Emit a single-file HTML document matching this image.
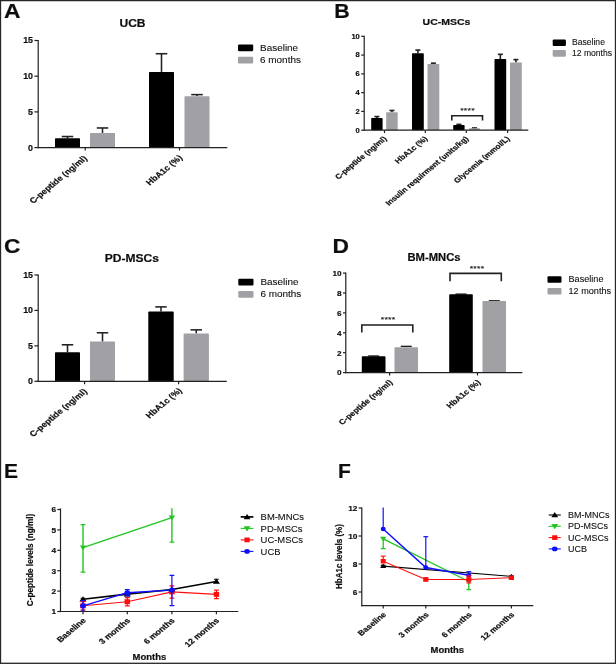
<!DOCTYPE html>
<html><head><meta charset="utf-8"><title>Figure</title>
<style>html,body{margin:0;padding:0;background:#fff;}svg{display:block;}text{font-family:"Liberation Sans",Arial,sans-serif;}</style>
</head><body>
<svg width="616" height="664" viewBox="0 0 616 664" font-family='"Liberation Sans", Arial, sans-serif'>
<rect x="0.00" y="0.00" width="616.00" height="664.00" fill="#fff"/>
<defs><filter id="soft" x="0" y="0" width="100%" height="100%" filterUnits="userSpaceOnUse"><feGaussianBlur stdDeviation="0.42"/></filter></defs>
<g filter="url(#soft)">
<rect x="0.00" y="0.00" width="616.00" height="664.00" fill="#fff"/>
<line x1="67.50" y1="138.32" x2="67.50" y2="136.53" stroke="#202020" stroke-width="1.55" />
<line x1="61.75" y1="136.53" x2="73.25" y2="136.53" stroke="#202020" stroke-width="1.55" />
<rect x="55.00" y="138.32" width="25.00" height="9.28" fill="#000" rx="0.7"/>
<line x1="102.50" y1="132.96" x2="102.50" y2="127.97" stroke="#202020" stroke-width="1.55" />
<line x1="96.75" y1="127.97" x2="108.25" y2="127.97" stroke="#202020" stroke-width="1.55" />
<rect x="90.00" y="132.96" width="25.00" height="14.64" fill="#a1a0a4" rx="0.7"/>
<line x1="161.50" y1="71.92" x2="161.50" y2="53.71" stroke="#202020" stroke-width="1.55" />
<line x1="155.75" y1="53.71" x2="167.25" y2="53.71" stroke="#202020" stroke-width="1.55" />
<rect x="149.00" y="71.92" width="25.00" height="75.68" fill="#000" rx="0.7"/>
<line x1="197.00" y1="96.19" x2="197.00" y2="94.62" stroke="#202020" stroke-width="1.55" />
<line x1="191.25" y1="94.62" x2="202.75" y2="94.62" stroke="#202020" stroke-width="1.55" />
<rect x="184.50" y="96.19" width="25.00" height="51.41" fill="#a1a0a4" rx="0.7"/>
<line x1="38.20" y1="39.90" x2="38.20" y2="148.20" stroke="#202020" stroke-width="1.2" />
<line x1="37.60" y1="147.60" x2="227.30" y2="147.60" stroke="#202020" stroke-width="1.2" />
<line x1="34.40" y1="147.60" x2="38.20" y2="147.60" stroke="#202020" stroke-width="1.2" />
<text font-size="8.2" font-weight="bold" text-anchor="end" fill="#111" stroke="#111" stroke-width="0.2" transform="translate(33.00 150.55) scale(1.08 1)">0</text>
<line x1="34.40" y1="111.90" x2="38.20" y2="111.90" stroke="#202020" stroke-width="1.2" />
<text font-size="8.2" font-weight="bold" text-anchor="end" fill="#111" stroke="#111" stroke-width="0.2" transform="translate(33.00 114.85) scale(1.08 1)">5</text>
<line x1="34.40" y1="76.20" x2="38.20" y2="76.20" stroke="#202020" stroke-width="1.2" />
<text font-size="8.2" font-weight="bold" text-anchor="end" fill="#111" stroke="#111" stroke-width="0.2" transform="translate(33.00 79.15) scale(1.08 1)">10</text>
<line x1="34.40" y1="40.50" x2="38.20" y2="40.50" stroke="#202020" stroke-width="1.2" />
<text font-size="8.2" font-weight="bold" text-anchor="end" fill="#111" stroke="#111" stroke-width="0.2" transform="translate(33.00 43.45) scale(1.08 1)">15</text>
<line x1="85.20" y1="147.60" x2="85.20" y2="150.50" stroke="#202020" stroke-width="1.2" />
<text font-size="7.8" font-weight="bold" text-anchor="end" fill="#111" stroke="#111" stroke-width="0.2" transform="translate(87.60 158.80) scale(1.2 1) rotate(-45)">C-peptide (ng/ml)</text>
<line x1="179.50" y1="147.60" x2="179.50" y2="150.50" stroke="#202020" stroke-width="1.2" />
<text font-size="7.8" font-weight="bold" text-anchor="end" fill="#111" stroke="#111" stroke-width="0.2" transform="translate(182.90 158.20) scale(1.2 1) rotate(-45)">HbA1c (%)</text>
<text font-size="10.3" font-weight="bold" text-anchor="middle" fill="#111" stroke="#111" stroke-width="0.2" transform="translate(132.50 27.20) scale(1.17 1)">UCB</text>
<rect x="238.00" y="44.40" width="15.20" height="6.80" fill="#000" rx="1.1"/>
<rect x="238.00" y="56.70" width="15.20" height="6.80" fill="#a1a0a4" rx="1.1"/>
<text font-size="9.3" text-anchor="start" fill="#111" stroke="#111" stroke-width="0.1" transform="translate(260.00 50.50) scale(1.07 1)">Baseline</text>
<text font-size="9.3" text-anchor="start" fill="#111" stroke="#111" stroke-width="0.1" transform="translate(260.00 62.80) scale(1.07 1)">6 months</text>
<text font-size="20" font-weight="bold" text-anchor="start" fill="#111" stroke="#111" stroke-width="0.2" transform="translate(4.00 18.30) scale(1.14 1)">A</text>
<line x1="376.90" y1="117.99" x2="376.90" y2="116.58" stroke="#202020" stroke-width="1.6" />
<line x1="374.40" y1="116.58" x2="379.40" y2="116.58" stroke="#202020" stroke-width="1.6" />
<rect x="371.20" y="117.99" width="11.40" height="12.21" fill="#000" rx="0.7"/>
<line x1="391.95" y1="112.36" x2="391.95" y2="110.48" stroke="#202020" stroke-width="1.6" />
<line x1="389.45" y1="110.48" x2="394.45" y2="110.48" stroke="#202020" stroke-width="1.6" />
<rect x="386.20" y="112.36" width="11.50" height="17.84" fill="#a1a0a4" rx="0.7"/>
<line x1="417.90" y1="53.20" x2="417.90" y2="50.10" stroke="#202020" stroke-width="1.6" />
<line x1="415.40" y1="50.10" x2="420.40" y2="50.10" stroke="#202020" stroke-width="1.6" />
<rect x="412.00" y="53.20" width="11.80" height="77.00" fill="#000" rx="0.7"/>
<line x1="433.40" y1="64.00" x2="433.40" y2="63.16" stroke="#202020" stroke-width="1.6" />
<line x1="430.90" y1="63.16" x2="435.90" y2="63.16" stroke="#202020" stroke-width="1.6" />
<rect x="427.50" y="64.00" width="11.80" height="66.20" fill="#a1a0a4" rx="0.7"/>
<line x1="458.90" y1="125.04" x2="458.90" y2="124.38" stroke="#202020" stroke-width="1.6" />
<line x1="456.40" y1="124.38" x2="461.40" y2="124.38" stroke="#202020" stroke-width="1.6" />
<rect x="453.20" y="125.04" width="11.40" height="5.16" fill="#000" rx="0.7"/>
<line x1="474.50" y1="128.32" x2="474.50" y2="127.95" stroke="#202020" stroke-width="1.6" />
<line x1="472.00" y1="127.95" x2="477.00" y2="127.95" stroke="#202020" stroke-width="1.6" />
<rect x="469.00" y="128.32" width="11.00" height="1.88" fill="#a1a0a4" rx="0.7"/>
<line x1="500.35" y1="59.02" x2="500.35" y2="54.33" stroke="#202020" stroke-width="1.6" />
<line x1="497.85" y1="54.33" x2="502.85" y2="54.33" stroke="#202020" stroke-width="1.6" />
<rect x="494.50" y="59.02" width="11.70" height="71.18" fill="#000" rx="0.7"/>
<line x1="515.90" y1="62.59" x2="515.90" y2="59.59" stroke="#202020" stroke-width="1.6" />
<line x1="513.40" y1="59.59" x2="518.40" y2="59.59" stroke="#202020" stroke-width="1.6" />
<rect x="510.00" y="62.59" width="11.80" height="67.61" fill="#a1a0a4" rx="0.7"/>
<line x1="364.20" y1="35.70" x2="364.20" y2="130.80" stroke="#202020" stroke-width="1.2" />
<line x1="363.60" y1="130.20" x2="528.30" y2="130.20" stroke="#202020" stroke-width="1.2" />
<line x1="361.20" y1="130.20" x2="364.20" y2="130.20" stroke="#202020" stroke-width="1.2" />
<text font-size="6.6" font-weight="bold" text-anchor="end" fill="#111" stroke="#111" stroke-width="0.2" transform="translate(359.80 132.58) scale(1.14 1)">0</text>
<line x1="361.20" y1="111.42" x2="364.20" y2="111.42" stroke="#202020" stroke-width="1.2" />
<text font-size="6.6" font-weight="bold" text-anchor="end" fill="#111" stroke="#111" stroke-width="0.2" transform="translate(359.80 113.80) scale(1.14 1)">2</text>
<line x1="361.20" y1="92.64" x2="364.20" y2="92.64" stroke="#202020" stroke-width="1.2" />
<text font-size="6.6" font-weight="bold" text-anchor="end" fill="#111" stroke="#111" stroke-width="0.2" transform="translate(359.80 95.02) scale(1.14 1)">4</text>
<line x1="361.20" y1="73.86" x2="364.20" y2="73.86" stroke="#202020" stroke-width="1.2" />
<text font-size="6.6" font-weight="bold" text-anchor="end" fill="#111" stroke="#111" stroke-width="0.2" transform="translate(359.80 76.24) scale(1.14 1)">6</text>
<line x1="361.20" y1="55.08" x2="364.20" y2="55.08" stroke="#202020" stroke-width="1.2" />
<text font-size="6.6" font-weight="bold" text-anchor="end" fill="#111" stroke="#111" stroke-width="0.2" transform="translate(359.80 57.46) scale(1.14 1)">8</text>
<line x1="361.20" y1="36.30" x2="364.20" y2="36.30" stroke="#202020" stroke-width="1.2" />
<text font-size="6.6" font-weight="bold" text-anchor="end" fill="#111" stroke="#111" stroke-width="0.2" transform="translate(359.80 38.68) scale(1.14 1)">10</text>
<line x1="384.50" y1="130.20" x2="384.50" y2="133.10" stroke="#202020" stroke-width="1.2" />
<text font-size="7.0" font-weight="bold" text-anchor="end" fill="#111" stroke="#111" stroke-width="0.2" transform="translate(387.20 139.20) scale(1.2 1) rotate(-45)">C-peptide (ng/ml)</text>
<line x1="425.30" y1="130.20" x2="425.30" y2="133.10" stroke="#202020" stroke-width="1.2" />
<text font-size="7.0" font-weight="bold" text-anchor="end" fill="#111" stroke="#111" stroke-width="0.2" transform="translate(428.00 139.20) scale(1.2 1) rotate(-45)">HbA1c (%)</text>
<line x1="466.30" y1="130.20" x2="466.30" y2="133.10" stroke="#202020" stroke-width="1.2" />
<text font-size="7.0" font-weight="bold" text-anchor="end" fill="#111" stroke="#111" stroke-width="0.2" transform="translate(469.00 139.20) scale(1.2 1) rotate(-45)">Insulin requirment (units/kg)</text>
<line x1="507.60" y1="130.20" x2="507.60" y2="133.10" stroke="#202020" stroke-width="1.2" />
<text font-size="7.0" font-weight="bold" text-anchor="end" fill="#111" stroke="#111" stroke-width="0.2" transform="translate(510.30 139.20) scale(1.2 1) rotate(-45)">Glycemia (mmol/L)</text>
<text font-size="9.0" font-weight="bold" text-anchor="middle" fill="#111" stroke="#111" stroke-width="0.2" transform="translate(446.50 25.00) scale(1.17 1)">UC-MSCs</text>
<rect x="552.70" y="39.50" width="13.20" height="6.60" fill="#000" rx="1.1"/>
<rect x="552.70" y="50.10" width="13.20" height="6.60" fill="#a1a0a4" rx="1.1"/>
<text font-size="8.3" text-anchor="start" fill="#111" stroke="#111" stroke-width="0.1" transform="translate(572.00 45.40) scale(1.035 1)">Baseline</text>
<text font-size="8.3" text-anchor="start" fill="#111" stroke="#111" stroke-width="0.1" transform="translate(572.00 56.00) scale(1.035 1)">12 months</text>
<text font-size="19.6" font-weight="bold" text-anchor="start" fill="#111" stroke="#111" stroke-width="0.2" transform="translate(334.20 17.60) scale(1.09 1)">B</text>
<line x1="67.50" y1="352.24" x2="67.50" y2="344.80" stroke="#202020" stroke-width="1.55" />
<line x1="61.75" y1="344.80" x2="73.25" y2="344.80" stroke="#202020" stroke-width="1.55" />
<rect x="55.00" y="352.24" width="25.00" height="29.06" fill="#000" rx="0.7"/>
<line x1="102.50" y1="341.61" x2="102.50" y2="332.76" stroke="#202020" stroke-width="1.55" />
<line x1="96.75" y1="332.76" x2="108.25" y2="332.76" stroke="#202020" stroke-width="1.55" />
<rect x="90.00" y="341.61" width="25.00" height="39.69" fill="#a1a0a4" rx="0.7"/>
<line x1="161.00" y1="311.50" x2="161.00" y2="306.89" stroke="#202020" stroke-width="1.55" />
<line x1="155.25" y1="306.89" x2="166.75" y2="306.89" stroke="#202020" stroke-width="1.55" />
<rect x="148.30" y="311.50" width="25.40" height="69.80" fill="#000" rx="0.7"/>
<line x1="196.25" y1="333.39" x2="196.25" y2="329.85" stroke="#202020" stroke-width="1.55" />
<line x1="190.50" y1="329.85" x2="202.00" y2="329.85" stroke="#202020" stroke-width="1.55" />
<rect x="183.60" y="333.39" width="25.30" height="47.91" fill="#a1a0a4" rx="0.7"/>
<line x1="38.20" y1="274.40" x2="38.20" y2="381.90" stroke="#202020" stroke-width="1.2" />
<line x1="37.60" y1="381.30" x2="226.80" y2="381.30" stroke="#202020" stroke-width="1.2" />
<line x1="34.40" y1="381.30" x2="38.20" y2="381.30" stroke="#202020" stroke-width="1.2" />
<text font-size="8.2" font-weight="bold" text-anchor="end" fill="#111" stroke="#111" stroke-width="0.2" transform="translate(33.00 384.25) scale(1.08 1)">0</text>
<line x1="34.40" y1="345.87" x2="38.20" y2="345.87" stroke="#202020" stroke-width="1.2" />
<text font-size="8.2" font-weight="bold" text-anchor="end" fill="#111" stroke="#111" stroke-width="0.2" transform="translate(33.00 348.82) scale(1.08 1)">5</text>
<line x1="34.40" y1="310.43" x2="38.20" y2="310.43" stroke="#202020" stroke-width="1.2" />
<text font-size="8.2" font-weight="bold" text-anchor="end" fill="#111" stroke="#111" stroke-width="0.2" transform="translate(33.00 313.39) scale(1.08 1)">10</text>
<line x1="34.40" y1="275.00" x2="38.20" y2="275.00" stroke="#202020" stroke-width="1.2" />
<text font-size="8.2" font-weight="bold" text-anchor="end" fill="#111" stroke="#111" stroke-width="0.2" transform="translate(33.00 277.95) scale(1.08 1)">15</text>
<line x1="84.60" y1="381.30" x2="84.60" y2="384.20" stroke="#202020" stroke-width="1.2" />
<text font-size="7.8" font-weight="bold" text-anchor="end" fill="#111" stroke="#111" stroke-width="0.2" transform="translate(87.60 391.90) scale(1.2 1) rotate(-45)">C-peptide (ng/ml)</text>
<line x1="178.60" y1="381.30" x2="178.60" y2="384.20" stroke="#202020" stroke-width="1.2" />
<text font-size="7.8" font-weight="bold" text-anchor="end" fill="#111" stroke="#111" stroke-width="0.2" transform="translate(182.50 391.10) scale(1.2 1) rotate(-45)">HbA1c (%)</text>
<text font-size="10.3" font-weight="bold" text-anchor="middle" fill="#111" stroke="#111" stroke-width="0.2" transform="translate(131.80 262.00) scale(1.17 1)">PD-MSCs</text>
<rect x="238.30" y="278.70" width="15.20" height="6.80" fill="#000" rx="1.1"/>
<rect x="238.30" y="291.00" width="15.20" height="6.80" fill="#a1a0a4" rx="1.1"/>
<text font-size="9.3" text-anchor="start" fill="#111" stroke="#111" stroke-width="0.1" transform="translate(260.40 284.80) scale(1.07 1)">Baseline</text>
<text font-size="9.3" text-anchor="start" fill="#111" stroke="#111" stroke-width="0.1" transform="translate(260.40 297.10) scale(1.07 1)">6 months</text>
<text font-size="20" font-weight="bold" text-anchor="start" fill="#111" stroke="#111" stroke-width="0.2" transform="translate(4.00 253.20) scale(1.14 1)">C</text>
<line x1="373.65" y1="356.28" x2="373.65" y2="355.98" stroke="#202020" stroke-width="1.35" />
<line x1="368.15" y1="355.98" x2="379.15" y2="355.98" stroke="#202020" stroke-width="1.35" />
<rect x="361.80" y="356.28" width="23.70" height="16.32" fill="#000" rx="0.7"/>
<line x1="406.25" y1="347.23" x2="406.25" y2="346.33" stroke="#202020" stroke-width="1.35" />
<line x1="400.75" y1="346.33" x2="411.75" y2="346.33" stroke="#202020" stroke-width="1.35" />
<rect x="394.50" y="347.23" width="23.50" height="25.37" fill="#a1a0a4" rx="0.7"/>
<line x1="461.00" y1="294.29" x2="461.00" y2="294.09" stroke="#202020" stroke-width="1.35" />
<line x1="455.50" y1="294.09" x2="466.50" y2="294.09" stroke="#202020" stroke-width="1.35" />
<rect x="449.20" y="294.29" width="23.60" height="78.31" fill="#000" rx="0.7"/>
<line x1="494.25" y1="301.06" x2="494.25" y2="300.76" stroke="#202020" stroke-width="1.35" />
<line x1="488.75" y1="300.76" x2="499.75" y2="300.76" stroke="#202020" stroke-width="1.35" />
<rect x="482.50" y="301.06" width="23.50" height="71.54" fill="#a1a0a4" rx="0.7"/>
<line x1="345.80" y1="272.50" x2="345.80" y2="373.20" stroke="#202020" stroke-width="1.2" />
<line x1="345.20" y1="372.60" x2="522.30" y2="372.60" stroke="#202020" stroke-width="1.2" />
<line x1="343.00" y1="372.60" x2="345.80" y2="372.60" stroke="#202020" stroke-width="1.2" />
<text font-size="8.0" font-weight="bold" text-anchor="end" fill="#111" stroke="#111" stroke-width="0.2" transform="translate(341.60 375.48) scale(1.02 1)">0</text>
<line x1="343.00" y1="352.70" x2="345.80" y2="352.70" stroke="#202020" stroke-width="1.2" />
<text font-size="8.0" font-weight="bold" text-anchor="end" fill="#111" stroke="#111" stroke-width="0.2" transform="translate(341.60 355.58) scale(1.02 1)">2</text>
<line x1="343.00" y1="332.80" x2="345.80" y2="332.80" stroke="#202020" stroke-width="1.2" />
<text font-size="8.0" font-weight="bold" text-anchor="end" fill="#111" stroke="#111" stroke-width="0.2" transform="translate(341.60 335.68) scale(1.02 1)">4</text>
<line x1="343.00" y1="312.90" x2="345.80" y2="312.90" stroke="#202020" stroke-width="1.2" />
<text font-size="8.0" font-weight="bold" text-anchor="end" fill="#111" stroke="#111" stroke-width="0.2" transform="translate(341.60 315.78) scale(1.02 1)">6</text>
<line x1="343.00" y1="293.00" x2="345.80" y2="293.00" stroke="#202020" stroke-width="1.2" />
<text font-size="8.0" font-weight="bold" text-anchor="end" fill="#111" stroke="#111" stroke-width="0.2" transform="translate(341.60 295.88) scale(1.02 1)">8</text>
<line x1="343.00" y1="273.10" x2="345.80" y2="273.10" stroke="#202020" stroke-width="1.2" />
<text font-size="8.0" font-weight="bold" text-anchor="end" fill="#111" stroke="#111" stroke-width="0.2" transform="translate(341.60 275.98) scale(1.02 1)">10</text>
<line x1="389.60" y1="372.60" x2="389.60" y2="375.50" stroke="#202020" stroke-width="1.2" />
<text font-size="7.3" font-weight="bold" text-anchor="end" fill="#111" stroke="#111" stroke-width="0.2" transform="translate(393.10 382.90) scale(1.2 1) rotate(-45)">C-peptide (ng/ml)</text>
<line x1="477.50" y1="372.60" x2="477.50" y2="375.50" stroke="#202020" stroke-width="1.2" />
<text font-size="7.3" font-weight="bold" text-anchor="end" fill="#111" stroke="#111" stroke-width="0.2" transform="translate(481.00 382.90) scale(1.2 1) rotate(-45)">HbA1c (%)</text>
<text font-size="10.2" font-weight="bold" text-anchor="middle" fill="#111" stroke="#111" stroke-width="0.2" transform="translate(434.00 260.70) scale(1.1 1)">BM-MNCs</text>
<rect x="547.50" y="276.20" width="14.00" height="6.60" fill="#000" rx="1.1"/>
<rect x="547.50" y="288.00" width="14.00" height="6.60" fill="#a1a0a4" rx="1.1"/>
<text font-size="8.6" text-anchor="start" fill="#111" stroke="#111" stroke-width="0.1" transform="translate(568.50 282.10) scale(1.06 1)">Baseline</text>
<text font-size="8.6" text-anchor="start" fill="#111" stroke="#111" stroke-width="0.1" transform="translate(568.50 293.90) scale(1.06 1)">12 months</text>
<text font-size="20" font-weight="bold" text-anchor="start" fill="#111" stroke="#111" stroke-width="0.2" transform="translate(332.50 252.70) scale(1.14 1)">D</text>
<polyline points="451.80,120.60 451.80,115.80 482.50,115.80 482.50,120.60" fill="none" stroke="#202020" stroke-width="1.6"/>
<text font-size="7.8" text-anchor="middle" fill="#111" letter-spacing="0.19" stroke="#111" stroke-width="0.1" transform="translate(467.50 113.10) scale(1.14 1)">****</text>
<polyline points="361.80,332.50 361.80,325.00 412.80,325.00 412.80,332.50" fill="none" stroke="#202020" stroke-width="1.6"/>
<text font-size="7.8" text-anchor="middle" fill="#111" letter-spacing="0.19" stroke="#111" stroke-width="0.1" transform="translate(388.10 322.40) scale(1.14 1)">****</text>
<polyline points="450.00,281.20 450.00,273.40 501.30,273.40 501.30,281.20" fill="none" stroke="#202020" stroke-width="1.6"/>
<text font-size="7.8" text-anchor="middle" fill="#111" letter-spacing="0.19" stroke="#111" stroke-width="0.1" transform="translate(477.00 270.90) scale(1.14 1)">****</text>
<clipPath id="ce"><rect x="0" y="508.40" width="616" height="400"/></clipPath>
<g clip-path="url(#ce)">
<line x1="83.00" y1="600.28" x2="83.00" y2="598.24" stroke="#000" stroke-width="1.2" />
<line x1="80.60" y1="598.24" x2="85.40" y2="598.24" stroke="#000" stroke-width="1.2" />
<line x1="80.60" y1="600.28" x2="85.40" y2="600.28" stroke="#000" stroke-width="1.2" />
<line x1="216.40" y1="582.53" x2="216.40" y2="579.27" stroke="#000" stroke-width="1.2" />
<line x1="214.00" y1="579.27" x2="218.80" y2="579.27" stroke="#000" stroke-width="1.2" />
<line x1="214.00" y1="582.53" x2="218.80" y2="582.53" stroke="#000" stroke-width="1.2" />
<polyline points="83.00,599.26 127.30,594.16 171.90,589.47 216.40,581.51" fill="none" stroke="#000" stroke-width="1.6"/>
<polygon points="83.00,596.14 79.44,601.60 86.56,601.60" fill="#000"/>
<polygon points="127.30,591.04 123.74,596.50 130.86,596.50" fill="#000"/>
<polygon points="171.90,586.35 168.34,591.81 175.46,591.81" fill="#000"/>
<polygon points="216.40,578.39 212.84,583.85 219.96,583.85" fill="#000"/>
<line x1="83.00" y1="572.13" x2="83.00" y2="524.60" stroke="#22c522" stroke-width="1.4" />
<line x1="80.60" y1="524.60" x2="85.40" y2="524.60" stroke="#22c522" stroke-width="1.4" />
<line x1="80.60" y1="572.13" x2="85.40" y2="572.13" stroke="#22c522" stroke-width="1.4" />
<line x1="171.90" y1="542.14" x2="171.90" y2="507.46" stroke="#22c522" stroke-width="1.4" />
<line x1="169.50" y1="507.46" x2="174.30" y2="507.46" stroke="#22c522" stroke-width="1.4" />
<line x1="169.50" y1="542.14" x2="174.30" y2="542.14" stroke="#22c522" stroke-width="1.4" />
<polyline points="83.00,547.65 171.90,517.66" fill="none" stroke="#22c522" stroke-width="1.4"/>
<polygon points="83.00,550.41 79.85,545.58 86.15,545.58" fill="#22c522"/>
<polygon points="171.90,520.42 168.75,515.59 175.05,515.59" fill="#22c522"/>
<line x1="83.00" y1="609.87" x2="83.00" y2="601.71" stroke="#ff1010" stroke-width="1.2" />
<line x1="80.60" y1="601.71" x2="85.40" y2="601.71" stroke="#ff1010" stroke-width="1.2" />
<line x1="80.60" y1="609.87" x2="85.40" y2="609.87" stroke="#ff1010" stroke-width="1.2" />
<line x1="127.30" y1="605.79" x2="127.30" y2="597.63" stroke="#ff1010" stroke-width="1.2" />
<line x1="124.90" y1="597.63" x2="129.70" y2="597.63" stroke="#ff1010" stroke-width="1.2" />
<line x1="124.90" y1="605.79" x2="129.70" y2="605.79" stroke="#ff1010" stroke-width="1.2" />
<line x1="171.90" y1="598.04" x2="171.90" y2="585.80" stroke="#ff1010" stroke-width="1.2" />
<line x1="169.50" y1="585.80" x2="174.30" y2="585.80" stroke="#ff1010" stroke-width="1.2" />
<line x1="169.50" y1="598.04" x2="174.30" y2="598.04" stroke="#ff1010" stroke-width="1.2" />
<line x1="216.40" y1="598.65" x2="216.40" y2="590.08" stroke="#ff1010" stroke-width="1.2" />
<line x1="214.00" y1="590.08" x2="218.80" y2="590.08" stroke="#ff1010" stroke-width="1.2" />
<line x1="214.00" y1="598.65" x2="218.80" y2="598.65" stroke="#ff1010" stroke-width="1.2" />
<polyline points="83.00,605.79 127.30,601.71 171.90,591.92 216.40,594.36" fill="none" stroke="#ff1010" stroke-width="1.1"/>
<rect x="80.27" y="603.32" width="5.45" height="4.94" fill="#ff1010"/>
<rect x="124.57" y="599.24" width="5.45" height="4.94" fill="#ff1010"/>
<rect x="169.17" y="589.45" width="5.45" height="4.94" fill="#ff1010"/>
<rect x="213.67" y="591.89" width="5.45" height="4.94" fill="#ff1010"/>
<line x1="83.00" y1="611.09" x2="83.00" y2="600.48" stroke="#1010ff" stroke-width="1.2" />
<line x1="80.60" y1="600.48" x2="85.40" y2="600.48" stroke="#1010ff" stroke-width="1.2" />
<line x1="80.60" y1="611.09" x2="85.40" y2="611.09" stroke="#1010ff" stroke-width="1.2" />
<line x1="127.30" y1="595.79" x2="127.30" y2="589.67" stroke="#1010ff" stroke-width="1.2" />
<line x1="124.90" y1="589.67" x2="129.70" y2="589.67" stroke="#1010ff" stroke-width="1.2" />
<line x1="124.90" y1="595.79" x2="129.70" y2="595.79" stroke="#1010ff" stroke-width="1.2" />
<line x1="171.90" y1="605.58" x2="171.90" y2="575.39" stroke="#1010ff" stroke-width="1.2" />
<line x1="169.50" y1="575.39" x2="174.30" y2="575.39" stroke="#1010ff" stroke-width="1.2" />
<line x1="169.50" y1="605.58" x2="174.30" y2="605.58" stroke="#1010ff" stroke-width="1.2" />
<polyline points="83.00,605.79 127.30,592.73 171.90,590.08" fill="none" stroke="#1010ff" stroke-width="1.3"/>
<ellipse cx="83.00" cy="605.79" rx="2.90" ry="2.55" fill="#1010ff"/>
<ellipse cx="127.30" cy="592.73" rx="2.90" ry="2.55" fill="#1010ff"/>
<ellipse cx="171.90" cy="590.08" rx="2.90" ry="2.55" fill="#1010ff"/>
</g>
<line x1="60.50" y1="508.40" x2="60.50" y2="612.10" stroke="#202020" stroke-width="1.2" />
<line x1="59.90" y1="611.50" x2="238.30" y2="611.50" stroke="#202020" stroke-width="1.2" />
<line x1="57.30" y1="611.50" x2="60.50" y2="611.50" stroke="#202020" stroke-width="1.2" />
<text font-size="8.0" font-weight="bold" text-anchor="end" fill="#111" stroke="#111" stroke-width="0.2" transform="translate(56.10 614.38) scale(1.04 1)">1</text>
<line x1="57.30" y1="591.10" x2="60.50" y2="591.10" stroke="#202020" stroke-width="1.2" />
<text font-size="8.0" font-weight="bold" text-anchor="end" fill="#111" stroke="#111" stroke-width="0.2" transform="translate(56.10 593.98) scale(1.04 1)">2</text>
<line x1="57.30" y1="570.70" x2="60.50" y2="570.70" stroke="#202020" stroke-width="1.2" />
<text font-size="8.0" font-weight="bold" text-anchor="end" fill="#111" stroke="#111" stroke-width="0.2" transform="translate(56.10 573.58) scale(1.04 1)">3</text>
<line x1="57.30" y1="550.30" x2="60.50" y2="550.30" stroke="#202020" stroke-width="1.2" />
<text font-size="8.0" font-weight="bold" text-anchor="end" fill="#111" stroke="#111" stroke-width="0.2" transform="translate(56.10 553.18) scale(1.04 1)">4</text>
<line x1="57.30" y1="529.90" x2="60.50" y2="529.90" stroke="#202020" stroke-width="1.2" />
<text font-size="8.0" font-weight="bold" text-anchor="end" fill="#111" stroke="#111" stroke-width="0.2" transform="translate(56.10 532.78) scale(1.04 1)">5</text>
<line x1="57.30" y1="509.50" x2="60.50" y2="509.50" stroke="#202020" stroke-width="1.2" />
<text font-size="8.0" font-weight="bold" text-anchor="end" fill="#111" stroke="#111" stroke-width="0.2" transform="translate(56.10 512.38) scale(1.04 1)">6</text>
<line x1="83.00" y1="611.50" x2="83.00" y2="614.30" stroke="#202020" stroke-width="1.2" />
<text font-size="7.5" font-weight="bold" text-anchor="end" fill="#111" stroke="#111" stroke-width="0.2" transform="translate(86.50 621.00) scale(1.2 1) rotate(-45)">Baseline</text>
<line x1="127.30" y1="611.50" x2="127.30" y2="614.30" stroke="#202020" stroke-width="1.2" />
<text font-size="7.5" font-weight="bold" text-anchor="end" fill="#111" stroke="#111" stroke-width="0.2" transform="translate(130.80 621.00) scale(1.2 1) rotate(-45)">3 months</text>
<line x1="171.90" y1="611.50" x2="171.90" y2="614.30" stroke="#202020" stroke-width="1.2" />
<text font-size="7.5" font-weight="bold" text-anchor="end" fill="#111" stroke="#111" stroke-width="0.2" transform="translate(175.40 621.00) scale(1.2 1) rotate(-45)">6 months</text>
<line x1="216.40" y1="611.50" x2="216.40" y2="614.30" stroke="#202020" stroke-width="1.2" />
<text font-size="7.5" font-weight="bold" text-anchor="end" fill="#111" stroke="#111" stroke-width="0.2" transform="translate(219.90 621.00) scale(1.2 1) rotate(-45)">12 months</text>
<text font-size="8.3" font-weight="bold" text-anchor="middle" fill="#111" stroke="#111" stroke-width="0.2" transform="translate(149.40 659.60) scale(1.14 1)">Months</text>
<text font-size="8.2" font-weight="bold" text-anchor="middle" fill="#111" stroke="#111" stroke-width="0.2" transform="translate(33.20 560.00) scale(1.14 1) rotate(-90)">C-peptide levels (ng/ml)</text>
<text font-size="20" font-weight="bold" text-anchor="start" fill="#111" stroke="#111" stroke-width="0.2" transform="translate(4.00 478.20) scale(1.05 1)">E</text>
<line x1="240.70" y1="516.90" x2="253.40" y2="516.90" stroke="#000" stroke-width="1.7" />
<polygon points="247.05,513.90 243.63,519.15 250.47,519.15" fill="#000"/>
<text font-size="8.8" text-anchor="start" fill="#111" stroke="#111" stroke-width="0.1" transform="translate(260.60 520.07) scale(1.07 1)">BM-MNCs</text>
<line x1="240.70" y1="528.40" x2="253.40" y2="528.40" stroke="#22c522" stroke-width="1.1" />
<polygon points="247.05,531.40 243.63,526.15 250.47,526.15" fill="#22c522"/>
<text font-size="8.8" text-anchor="start" fill="#111" stroke="#111" stroke-width="0.1" transform="translate(260.60 531.57) scale(1.07 1)">PD-MSCs</text>
<line x1="240.70" y1="539.90" x2="253.40" y2="539.90" stroke="#ff1010" stroke-width="1.1" />
<rect x="244.43" y="537.52" width="5.24" height="4.75" fill="#ff1010"/>
<text font-size="8.8" text-anchor="start" fill="#111" stroke="#111" stroke-width="0.1" transform="translate(260.60 543.07) scale(1.07 1)">UC-MSCs</text>
<line x1="240.70" y1="551.40" x2="253.40" y2="551.40" stroke="#1010ff" stroke-width="1.1" />
<ellipse cx="247.05" cy="551.40" rx="2.79" ry="2.45" fill="#1010ff"/>
<text font-size="8.8" text-anchor="start" fill="#111" stroke="#111" stroke-width="0.1" transform="translate(260.60 554.57) scale(1.07 1)">UCB</text>
<clipPath id="cf"><rect x="0" y="507.60" width="616" height="400"/></clipPath>
<g clip-path="url(#cf)">
<line x1="383.20" y1="548.60" x2="383.20" y2="538.80" stroke="#22c522" stroke-width="1.3" />
<line x1="380.80" y1="548.60" x2="385.60" y2="548.60" stroke="#22c522" stroke-width="1.3" />
<line x1="468.80" y1="589.62" x2="468.80" y2="581.50" stroke="#22c522" stroke-width="1.3" />
<line x1="466.40" y1="589.62" x2="471.20" y2="589.62" stroke="#22c522" stroke-width="1.3" />
<polyline points="383.20,538.80 468.80,581.50" fill="none" stroke="#22c522" stroke-width="1.35"/>
<polygon points="383.20,541.56 380.05,536.73 386.35,536.73" fill="#22c522"/>
<polygon points="468.80,584.26 465.65,579.43 471.95,579.43" fill="#22c522"/>
<line x1="383.20" y1="566.94" x2="383.20" y2="565.26" stroke="#000" stroke-width="1.2" />
<line x1="380.80" y1="565.26" x2="385.60" y2="565.26" stroke="#000" stroke-width="1.2" />
<line x1="380.80" y1="566.94" x2="385.60" y2="566.94" stroke="#000" stroke-width="1.2" />
<line x1="511.40" y1="576.74" x2="511.40" y2="575.90" stroke="#000" stroke-width="1.2" />
<line x1="509.00" y1="575.90" x2="513.80" y2="575.90" stroke="#000" stroke-width="1.2" />
<line x1="509.00" y1="576.74" x2="513.80" y2="576.74" stroke="#000" stroke-width="1.2" />
<polyline points="383.20,566.10 511.40,576.32" fill="none" stroke="#000" stroke-width="1.1"/>
<polygon points="383.20,563.46 380.19,568.08 386.21,568.08" fill="#000"/>
<polygon points="511.40,573.68 508.39,578.30 514.41,578.30" fill="#000"/>
<line x1="383.20" y1="529.00" x2="383.20" y2="492.60" stroke="#1010ff" stroke-width="1.2" />
<line x1="380.80" y1="492.60" x2="385.60" y2="492.60" stroke="#1010ff" stroke-width="1.2" />
<line x1="425.80" y1="567.50" x2="425.80" y2="536.70" stroke="#1010ff" stroke-width="1.2" />
<line x1="423.40" y1="536.70" x2="428.20" y2="536.70" stroke="#1010ff" stroke-width="1.2" />
<line x1="468.80" y1="575.20" x2="468.80" y2="571.70" stroke="#1010ff" stroke-width="1.2" />
<line x1="466.40" y1="571.70" x2="471.20" y2="571.70" stroke="#1010ff" stroke-width="1.2" />
<polyline points="383.20,529.00 425.80,567.50 468.80,575.20" fill="none" stroke="#1010ff" stroke-width="1.45"/>
<ellipse cx="383.20" cy="529.00" rx="2.51" ry="2.21" fill="#1010ff"/>
<ellipse cx="425.80" cy="567.50" rx="2.51" ry="2.21" fill="#1010ff"/>
<ellipse cx="468.80" cy="575.20" rx="2.51" ry="2.21" fill="#1010ff"/>
<line x1="383.20" y1="561.20" x2="383.20" y2="556.16" stroke="#ff1010" stroke-width="1.2" />
<line x1="380.80" y1="556.16" x2="385.60" y2="556.16" stroke="#ff1010" stroke-width="1.2" />
<line x1="425.80" y1="580.80" x2="425.80" y2="578.00" stroke="#ff1010" stroke-width="1.2" />
<line x1="423.40" y1="578.00" x2="428.20" y2="578.00" stroke="#ff1010" stroke-width="1.2" />
<line x1="423.40" y1="580.80" x2="428.20" y2="580.80" stroke="#ff1010" stroke-width="1.2" />
<line x1="468.80" y1="582.90" x2="468.80" y2="575.90" stroke="#ff1010" stroke-width="1.2" />
<line x1="466.40" y1="575.90" x2="471.20" y2="575.90" stroke="#ff1010" stroke-width="1.2" />
<line x1="466.40" y1="582.90" x2="471.20" y2="582.90" stroke="#ff1010" stroke-width="1.2" />
<line x1="511.40" y1="579.12" x2="511.40" y2="576.32" stroke="#ff1010" stroke-width="1.2" />
<line x1="509.00" y1="576.32" x2="513.80" y2="576.32" stroke="#ff1010" stroke-width="1.2" />
<line x1="509.00" y1="579.12" x2="513.80" y2="579.12" stroke="#ff1010" stroke-width="1.2" />
<polyline points="383.20,561.20 425.80,579.40 468.80,579.40 511.40,577.72" fill="none" stroke="#ff1010" stroke-width="1.05"/>
<rect x="380.68" y="558.92" width="5.03" height="4.56" fill="#ff1010"/>
<rect x="423.28" y="577.12" width="5.03" height="4.56" fill="#ff1010"/>
<rect x="466.28" y="577.12" width="5.03" height="4.56" fill="#ff1010"/>
<rect x="508.88" y="575.44" width="5.03" height="4.56" fill="#ff1010"/>
</g>
<line x1="361.80" y1="507.60" x2="361.80" y2="606.20" stroke="#202020" stroke-width="1.2" />
<line x1="361.20" y1="605.60" x2="533.30" y2="605.60" stroke="#202020" stroke-width="1.2" />
<line x1="358.60" y1="592.00" x2="361.80" y2="592.00" stroke="#202020" stroke-width="1.2" />
<text font-size="8.0" font-weight="bold" text-anchor="end" fill="#111" stroke="#111" stroke-width="0.2" transform="translate(357.40 594.88) scale(1.04 1)">6</text>
<line x1="358.60" y1="564.00" x2="361.80" y2="564.00" stroke="#202020" stroke-width="1.2" />
<text font-size="8.0" font-weight="bold" text-anchor="end" fill="#111" stroke="#111" stroke-width="0.2" transform="translate(357.40 566.88) scale(1.04 1)">8</text>
<line x1="358.60" y1="536.00" x2="361.80" y2="536.00" stroke="#202020" stroke-width="1.2" />
<text font-size="8.0" font-weight="bold" text-anchor="end" fill="#111" stroke="#111" stroke-width="0.2" transform="translate(357.40 538.88) scale(1.04 1)">10</text>
<line x1="358.60" y1="508.00" x2="361.80" y2="508.00" stroke="#202020" stroke-width="1.2" />
<text font-size="8.0" font-weight="bold" text-anchor="end" fill="#111" stroke="#111" stroke-width="0.2" transform="translate(357.40 510.88) scale(1.04 1)">12</text>
<line x1="383.20" y1="605.60" x2="383.20" y2="608.40" stroke="#202020" stroke-width="1.2" />
<text font-size="7.3" font-weight="bold" text-anchor="end" fill="#111" stroke="#111" stroke-width="0.2" transform="translate(386.80 615.10) scale(1.2 1) rotate(-45)">Baseline</text>
<line x1="425.80" y1="605.60" x2="425.80" y2="608.40" stroke="#202020" stroke-width="1.2" />
<text font-size="7.3" font-weight="bold" text-anchor="end" fill="#111" stroke="#111" stroke-width="0.2" transform="translate(429.40 615.10) scale(1.2 1) rotate(-45)">3 months</text>
<line x1="468.80" y1="605.60" x2="468.80" y2="608.40" stroke="#202020" stroke-width="1.2" />
<text font-size="7.3" font-weight="bold" text-anchor="end" fill="#111" stroke="#111" stroke-width="0.2" transform="translate(472.40 615.10) scale(1.2 1) rotate(-45)">6 months</text>
<line x1="511.40" y1="605.60" x2="511.40" y2="608.40" stroke="#202020" stroke-width="1.2" />
<text font-size="7.3" font-weight="bold" text-anchor="end" fill="#111" stroke="#111" stroke-width="0.2" transform="translate(515.00 615.10) scale(1.2 1) rotate(-45)">12 months</text>
<text font-size="8.3" font-weight="bold" text-anchor="middle" fill="#111" stroke="#111" stroke-width="0.2" transform="translate(447.30 652.80) scale(1.14 1)">Months</text>
<text font-size="8.07" font-weight="bold" text-anchor="middle" fill="#111" stroke="#111" stroke-width="0.2" transform="translate(342.00 556.50) scale(1.14 1) rotate(-90)">HbA1c levels (%)</text>
<text font-size="20" font-weight="bold" text-anchor="start" fill="#111" stroke="#111" stroke-width="0.2" transform="translate(338.00 478.20) scale(1.05 1)">F</text>
<line x1="548.70" y1="515.00" x2="560.80" y2="515.00" stroke="#000" stroke-width="1.1" />
<polygon points="554.75,512.00 551.33,517.25 558.17,517.25" fill="#000"/>
<text font-size="8.4" text-anchor="start" fill="#111" stroke="#111" stroke-width="0.1" transform="translate(568.00 518.02) scale(1.07 1)">BM-MNCs</text>
<line x1="548.70" y1="526.30" x2="560.80" y2="526.30" stroke="#22c522" stroke-width="1.1" />
<polygon points="554.75,529.30 551.33,524.05 558.17,524.05" fill="#22c522"/>
<text font-size="8.4" text-anchor="start" fill="#111" stroke="#111" stroke-width="0.1" transform="translate(568.00 529.32) scale(1.07 1)">PD-MSCs</text>
<line x1="548.70" y1="537.60" x2="560.80" y2="537.60" stroke="#ff1010" stroke-width="1.1" />
<rect x="552.13" y="535.23" width="5.24" height="4.75" fill="#ff1010"/>
<text font-size="8.4" text-anchor="start" fill="#111" stroke="#111" stroke-width="0.1" transform="translate(568.00 540.62) scale(1.07 1)">UC-MSCs</text>
<line x1="548.70" y1="548.90" x2="560.80" y2="548.90" stroke="#1010ff" stroke-width="1.1" />
<ellipse cx="554.75" cy="548.90" rx="2.79" ry="2.45" fill="#1010ff"/>
<text font-size="8.4" text-anchor="start" fill="#111" stroke="#111" stroke-width="0.1" transform="translate(568.00 551.92) scale(1.07 1)">UCB</text>
</g>
<rect x="0.5" y="0.6" width="615.0" height="662.7" fill="none" stroke="#262626" stroke-width="1.3"/>
</svg>
</body></html>
